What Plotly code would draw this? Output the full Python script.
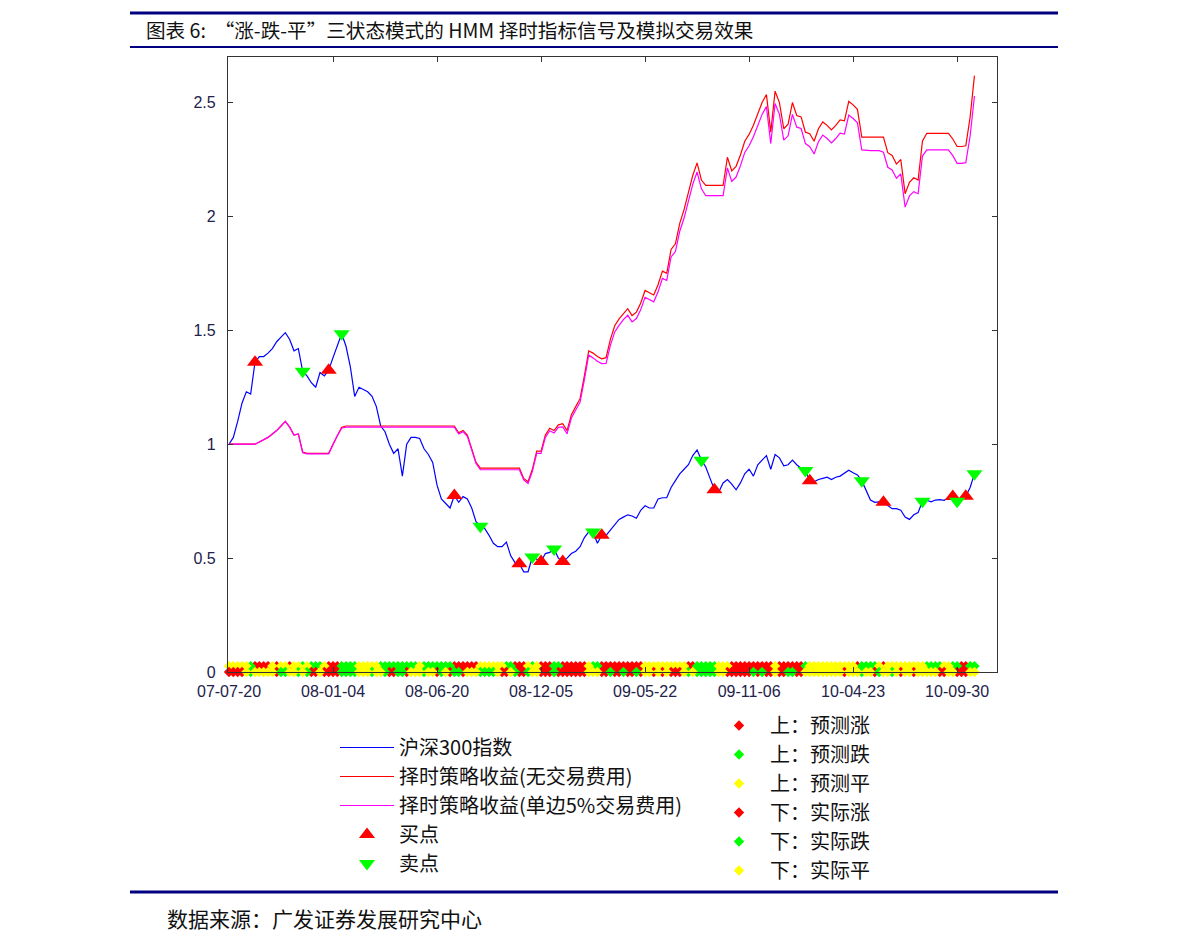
import plotly.graph_objects as go

# ---------------- data ----------------
tick_weeks = [0, 24, 48, 72, 96, 120, 144, 168]
tick_dates = ["07-07-20", "08-01-04", "08-06-20", "08-12-05",
              "09-05-22", "09-11-06", "10-04-23", "10-09-30"]

hs300 = [
    1.00, 1.03, 1.10, 1.18, 1.23, 1.22, 1.36, 1.385, 1.385, 1.40,
    1.42, 1.45, 1.47, 1.49, 1.46, 1.41, 1.42, 1.32, 1.30, 1.27,
    1.25, 1.315, 1.30, 1.325, 1.38, 1.43, 1.485, 1.43, 1.34, 1.21,
    1.25, 1.24, 1.23, 1.21, 1.165, 1.08, 1.055, 1.00, 0.96, 0.98,
    0.86, 1.00, 1.03, 1.03, 1.025, 0.98, 0.955, 0.92, 0.82, 0.76,
    0.74, 0.72, 0.775, 0.745, 0.77, 0.76, 0.72, 0.66, 0.64, 0.63,
    0.60, 0.565, 0.55, 0.55, 0.57, 0.51, 0.48, 0.475, 0.44, 0.44,
    0.505, 0.495, 0.485, 0.52, 0.525, 0.54, 0.50, 0.485, 0.50, 0.52,
    0.53, 0.55, 0.59, 0.615, 0.615, 0.565, 0.60, 0.60, 0.625, 0.65,
    0.67, 0.68, 0.69, 0.685, 0.675, 0.71, 0.73, 0.72, 0.72, 0.76,
    0.765, 0.765, 0.81, 0.84, 0.87, 0.89, 0.91, 0.95, 0.975, 0.93,
    0.90, 0.85, 0.80, 0.79, 0.83, 0.845, 0.825, 0.80, 0.83, 0.87,
    0.89, 0.86, 0.91, 0.93, 0.95, 0.89, 0.955, 0.94, 0.905, 0.91,
    0.93, 0.91, 0.895, 0.885, 0.84, 0.835, 0.845, 0.85, 0.855, 0.845,
    0.855, 0.86, 0.875, 0.886, 0.875, 0.865, 0.84, 0.80, 0.755, 0.745,
    0.747, 0.745, 0.73, 0.717, 0.717, 0.71, 0.68, 0.67, 0.69, 0.70,
    0.75, 0.754, 0.747, 0.755, 0.757, 0.754, 0.765, 0.77, 0.75, 0.765,
    0.772, 0.81, 0.87,
]

strategy_nofee = [
    1.0, 1.0, 1.0, 1.0, 1.0, 1.0, 1.0, 1.01, 1.02, 1.03,
    1.045, 1.06, 1.08, 1.10, 1.075, 1.04, 1.045, 0.965, 0.96, 0.96,
    0.96, 0.96, 0.96, 0.96, 1.00, 1.04, 1.075, 1.08, 1.08, 1.08,
    1.08, 1.08, 1.08, 1.08, 1.08, 1.08, 1.08, 1.08, 1.08, 1.08,
    1.08, 1.08, 1.08, 1.08, 1.08, 1.08, 1.08, 1.08, 1.08, 1.08,
    1.08, 1.08, 1.08, 1.05, 1.06, 1.04, 0.98, 0.92, 0.895, 0.895,
    0.895, 0.895, 0.895, 0.895, 0.895, 0.895, 0.895, 0.895, 0.85, 0.835,
    0.89, 0.97, 0.97, 1.04, 1.07, 1.06, 1.085, 1.09, 1.06, 1.13,
    1.165, 1.20, 1.30, 1.41, 1.40, 1.385, 1.375, 1.38, 1.46, 1.52,
    1.55, 1.575, 1.595, 1.565, 1.58, 1.62, 1.675, 1.665, 1.655, 1.70,
    1.76, 1.75, 1.855, 1.88, 1.97, 2.03, 2.10, 2.18, 2.235, 2.16,
    2.136, 2.136, 2.136, 2.136, 2.136, 2.26, 2.20, 2.22, 2.27, 2.33,
    2.36, 2.40, 2.45, 2.50, 2.535, 2.37, 2.55, 2.50, 2.385, 2.405,
    2.50, 2.443, 2.437, 2.37, 2.363, 2.33, 2.385, 2.415, 2.40, 2.38,
    2.40, 2.424, 2.42, 2.505, 2.49, 2.47, 2.348, 2.348, 2.348, 2.348,
    2.348, 2.348, 2.28, 2.268, 2.23, 2.25, 2.10, 2.15, 2.17, 2.16,
    2.33, 2.365, 2.365, 2.365, 2.365, 2.365, 2.365, 2.34, 2.307, 2.307,
    2.31, 2.436, 2.618,
]

strategy_fee = [
    1.0, 1.0, 1.0, 1.0, 1.0, 1.0, 1.0, 1.01, 1.02, 1.03,
    1.045, 1.06, 1.08, 1.10, 1.075, 1.04, 1.045, 0.963, 0.958, 0.958,
    0.958, 0.958, 0.958, 0.958, 0.998, 1.038, 1.070, 1.075, 1.075, 1.075,
    1.075, 1.075, 1.075, 1.075, 1.075, 1.075, 1.075, 1.075, 1.075, 1.075,
    1.075, 1.075, 1.075, 1.075, 1.075, 1.075, 1.075, 1.075, 1.075, 1.075,
    1.075, 1.075, 1.075, 1.045, 1.055, 1.035, 0.975, 0.915, 0.888, 0.888,
    0.888, 0.888, 0.888, 0.888, 0.888, 0.888, 0.888, 0.888, 0.843, 0.828,
    0.881, 0.960, 0.960, 1.030, 1.059, 1.049, 1.074, 1.076, 1.046, 1.115,
    1.150, 1.184, 1.283, 1.392, 1.379, 1.364, 1.354, 1.355, 1.434, 1.493,
    1.522, 1.547, 1.566, 1.537, 1.552, 1.591, 1.645, 1.635, 1.625, 1.669,
    1.728, 1.719, 1.822, 1.846, 1.935, 1.993, 2.062, 2.141, 2.195, 2.121,
    2.091, 2.091, 2.091, 2.091, 2.091, 2.213, 2.154, 2.173, 2.222, 2.281,
    2.310, 2.350, 2.399, 2.448, 2.482, 2.320, 2.496, 2.448, 2.335, 2.354,
    2.448, 2.392, 2.386, 2.320, 2.306, 2.274, 2.328, 2.357, 2.342, 2.323,
    2.342, 2.366, 2.362, 2.445, 2.430, 2.411, 2.292, 2.289, 2.289, 2.289,
    2.289, 2.282, 2.216, 2.204, 2.168, 2.187, 2.041, 2.090, 2.109, 2.100,
    2.265, 2.292, 2.292, 2.292, 2.292, 2.292, 2.292, 2.267, 2.233, 2.233,
    2.236, 2.353, 2.529,
]

buy_weeks = [6, 23, 52, 67, 72, 77, 86, 112, 134, 151, 167, 170]
sell_weeks = [17, 26, 58, 70, 75, 84, 109, 133, 146, 160, 168, 172]

# run-length coded weekly states: R = 涨, G = 跌, Y = 平
predicted_runs = [
    ("Y", 5), ("G", 1), ("R", 4), ("Y", 1), ("R", 1), ("Y", 2), ("R", 1), ("Y", 2),
    ("G", 1), ("Y", 1), ("G", 3), ("Y", 1), ("R", 3), ("G", 4), ("Y", 5), ("G", 9),
    ("Y", 1), ("G", 7), ("R", 6), ("Y", 6), ("G", 2), ("R", 3), ("Y", 1), ("G", 1),
    ("Y", 1), ("R", 3), ("G", 2), ("R", 6), ("Y", 1), ("G", 2), ("R", 10), ("Y", 10),
    ("R", 2), ("G", 5), ("Y", 3), ("R", 10), ("Y", 1), ("R", 6), ("G", 1), ("Y", 11),
    ("R", 1), ("G", 4), ("Y", 1), ("R", 1), ("Y", 9), ("G", 4), ("Y", 2), ("G", 2),
    ("R", 2), ("G", 2),
]
actual_runs = [
    ("R", 4), ("Y", 1), ("G", 1), ("Y", 5), ("R", 1), ("G", 2), ("Y", 2), ("G", 1),
    ("Y", 1), ("G", 1), ("R", 2), ("Y", 1), ("R", 4), ("G", 4), ("Y", 3), ("G", 1),
    ("Y", 2), ("G", 1), ("R", 2), ("G", 2), ("R", 1), ("Y", 3), ("G", 1), ("Y", 2),
    ("R", 1), ("G", 1), ("Y", 1), ("R", 1), ("G", 2), ("R", 1), ("Y", 3), ("G", 4),
    ("Y", 1), ("R", 2), ("Y", 1), ("G", 1), ("R", 2), ("G", 1), ("Y", 2), ("R", 3),
    ("G", 1), ("R", 7), ("Y", 3), ("R", 2), ("G", 1), ("R", 2), ("G", 1), ("R", 2),
    ("G", 1), ("R", 1), ("Y", 2), ("R", 1), ("Y", 1), ("R", 1), ("Y", 1), ("R", 3),
    ("Y", 1), ("G", 1), ("Y", 1), ("G", 5), ("Y", 2), ("R", 6), ("G", 1), ("R", 1),
    ("G", 1), ("R", 2), ("Y", 1), ("R", 2), ("G", 2), ("R", 2), ("Y", 9), ("R", 1),
    ("Y", 3), ("G", 1), ("Y", 2), ("R", 1), ("G", 1), ("Y", 2), ("G", 1), ("Y", 1),
    ("R", 1), ("Y", 2), ("R", 1), ("Y", 5), ("R", 2), ("Y", 2), ("R", 3), ("Y", 2),
]

# ---------------- helpers ----------------
OFF = 8                      # page body margin added by the browser
PAGE_W, PAGE_H = 1191, 951
W, H = PAGE_W - OFF, PAGE_H - OFF
L, R_, T, B = 228, 997, 57, 672   # plot-area edges in page pixels


def px(x):
    return (x - L) / (R_ - L)


def py(y):
    return (B - y) / (B - T)


def expand(runs):
    out = []
    for c, n in runs:
        out.extend([c] * n)
    return out


weeks = list(range(len(hs300)))
pred = expand(predicted_runs)
act = expand(actual_runs)

NAVY = "#000080"
CJK = "Noto Sans CJK SC"
colors = {"R": "#FF0000", "G": "#00FF00", "Y": "#FFFF00"}

fig = go.Figure()

fig.add_trace(go.Scatter(x=weeks, y=hs300, mode="lines", name="沪深300指数",
                         line=dict(color="#0000FF", width=1.2)))
fig.add_trace(go.Scatter(x=weeks, y=strategy_nofee, mode="lines",
                         name="择时策略收益(无交易费用)",
                         line=dict(color="#FF0000", width=1.2)))
fig.add_trace(go.Scatter(x=weeks, y=strategy_fee, mode="lines",
                         name="择时策略收益(单边5%交易费用)",
                         line=dict(color="#FF00FF", width=1.2)))
fig.add_trace(go.Scatter(x=buy_weeks, y=[hs300[i] for i in buy_weeks], mode="markers",
                         name="买点",
                         marker=dict(symbol="triangle-up", size=14, color="#FF0000",
                                     line=dict(width=0))))
fig.add_trace(go.Scatter(x=sell_weeks, y=[hs300[i] for i in sell_weeks], mode="markers",
                         name="卖点",
                         marker=dict(symbol="triangle-down", size=14, color="#00FF00",
                                     line=dict(width=0))))

strip_defs = [
    ("上：预测涨", pred, "R", 0.026),
    ("上：预测跌", pred, "G", 0.026),
    ("上：预测平", pred, "Y", 0.026),
    ("下：实际涨", act, "R", 0.0),
    ("下：实际跌", act, "G", 0.0),
    ("下：实际平", act, "Y", 0.0),
]
for name, seq, code, level in strip_defs:
    xs = [i for i, c in enumerate(seq) if c == code]
    fig.add_trace(go.Scatter(x=xs, y=[level] * len(xs), mode="markers", name=name,
                             legend="legend2", cliponaxis=False,
                             marker=dict(symbol="diamond", size=8, color=colors[code],
                                         line=dict(width=0))))

axis_common = dict(showline=True, linecolor="#333333", linewidth=1.3, mirror="ticks",
                   ticks="inside", ticklen=5, tickcolor="#333333", showgrid=False,
                   zeroline=False,
                   tickfont=dict(family="Liberation Sans, Arial", size=16, color="#22224a"))

fig.update_layout(
    width=W, height=H, autosize=False,
    margin=dict(l=L - OFF, r=PAGE_W - R_, t=T - OFF, b=PAGE_H - B),
    paper_bgcolor="white", plot_bgcolor="white",
    xaxis=dict(range=[-0.23, 177.2], tickvals=tick_weeks, ticktext=tick_dates,
               ticklabelstandoff=5, **axis_common),
    yaxis=dict(range=[0, 2.7], tickvals=[0, 0.5, 1, 1.5, 2, 2.5],
               ticktext=["0", "0.5", "1", "1.5", "2", "2.5"], ticklabelstandoff=8,
               **axis_common),
    legend=dict(x=px(335), y=py(728), xanchor="left", yanchor="top",
                bgcolor="rgba(0,0,0,0)", font=dict(family=CJK, size=20, color="#111111"),
                itemwidth=54),
    legend2=dict(x=px(708), y=py(706), xanchor="left", yanchor="top",
                 bgcolor="rgba(0,0,0,0)", font=dict(family=CJK, size=20, color="#111111"),
                 itemwidth=52),
    showlegend=True,
)

shapes = [
    dict(type="line", xref="paper", yref="paper", x0=px(130), x1=px(1058),
         y0=py(13), y1=py(13), line=dict(color=NAVY, width=3)),
    dict(type="line", xref="paper", yref="paper", x0=px(130), x1=px(1058),
         y0=py(47), y1=py(47), line=dict(color=NAVY, width=2)),
    dict(type="line", xref="paper", yref="paper", x0=px(130), x1=px(1058),
         y0=py(892), y1=py(892), line=dict(color=NAVY, width=3)),
]
fig.update_layout(shapes=shapes)

fig.add_annotation(xref="paper", yref="paper", x=px(144), y=py(30), xanchor="left",
                   yanchor="middle", showarrow=False,
                   text="图表 6:  “涨-跌-平”三状态模式的 HMM 择时指标信号及模拟交易效果",
                   font=dict(family=CJK, size=19.6, color="#111111"))
fig.add_annotation(xref="paper", yref="paper", x=px(165), y=py(918), xanchor="left",
                   yanchor="middle", showarrow=False,
                   text="数据来源：广发证券发展研究中心",
                   font=dict(family=CJK, size=21, color="#111111"))

fig.write_html("out.html")
